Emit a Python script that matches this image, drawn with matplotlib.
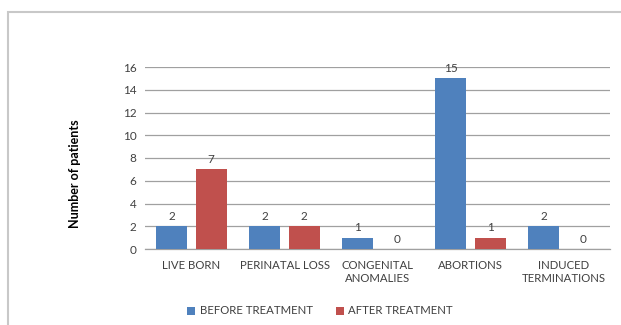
import matplotlib
matplotlib.use("Agg")
import matplotlib.pyplot as plt
from matplotlib.patches import Rectangle
import numpy as np

categories = ["LIVE BORN", "PERINATAL LOSS", "CONGENITAL\nANOMALIES", "ABORTIONS", "INDUCED\nTERMINATIONS"]
before = [2, 2, 1, 15, 2]
after = [7, 2, 0, 1, 0]
series_names = ["BEFORE TREATMENT", "AFTER TREATMENT"]
yticks = [0, 2, 4, 6, 8, 10, 12, 14, 16]

plt.rcParams['font.family'] = ['Lato', 'DejaVu Sans']

fig = plt.figure(figsize=(6.21, 3.25), dpi=100)
# outer frame (partially out of view)
fig.patches.append(Rectangle((8/621, -0.1), 1.2, 1 - 12/325 + 0.1, transform=fig.transFigure,
                             fill=False, edgecolor='#C8C8C8', linewidth=1.5))

ax = fig.add_axes([145/621, 1 - 249/325, (610 - 145)/621, (249 - 67)/325])
x = np.arange(len(categories))
w = 0.333
off = 0.21
b1 = ax.bar(x - off, before, w, color='#4F81BD', label=series_names[0], zorder=3)
b2 = ax.bar(x + off, after, w, color='#C0504D', label=series_names[1], zorder=3)
for bars, vals in ((b1, before), (b2, after)):
    for r, v in zip(bars, vals):
        ax.annotate(str(v), (r.get_x() + r.get_width()/2, v), xytext=(0, 3),
                    textcoords='offset points', ha='center', va='bottom',
                    fontsize=8.5, color='#404040')

ax.set_xlim(-0.5, len(categories) - 0.5)
ax.set_ylim(0, 16)
ax.set_yticks(yticks)
ax.set_yticklabels([str(t) for t in yticks], fontsize=8.5, color='#404040')
ax.set_xticks(x)
ax.set_xticklabels(categories, fontsize=8.2, color='#404040', linespacing=1.25)
ax.tick_params(axis='both', length=0, pad=6)
ax.tick_params(axis='x', pad=8)
ax.yaxis.grid(True, color='#A0A0A0', linewidth=0.9, zorder=0)
for s in ['top', 'right', 'left']:
    ax.spines[s].set_visible(False)
ax.spines['bottom'].set_color('#A0A0A0')
ax.spines['bottom'].set_linewidth(0.9)

fig.text(75/621, 1 - 174/325, "Number of patients", rotation=90, ha='center', va='center',
         fontsize=9, fontweight='bold', color='black')

fig.legend(handles=[b1, b2], labels=series_names, loc='center', bbox_to_anchor=(320/621, 1 - 311/325),
           ncol=2, frameon=False, fontsize=8.2, handlelength=0.7, handleheight=0.7,
           handletextpad=0.4, columnspacing=2.0, labelcolor='#404040')

fig.savefig("out.png", dpi=100)
